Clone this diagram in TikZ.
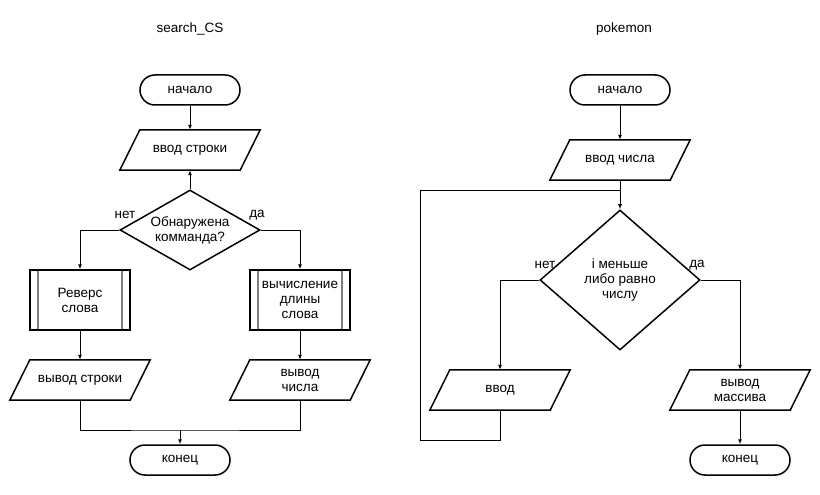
\documentclass[tikz,border=0pt]{standalone}
\usepackage{fontspec}
\setmainfont{Liberation Sans}
\usetikzlibrary{arrows.meta,shapes.geometric}

\begin{document}
\begin{tikzpicture}[x=1pt,y=-1pt,
        every node/.style={font=\fontsize{13.5}{15}\selectfont,align=center},
        term/.style={draw,line width=1.5pt,rounded corners=15pt,minimum width=100pt,minimum height=30pt,inner sep=0pt},
        io/.style={minimum width=120pt,minimum height=40pt,inner sep=0pt,
            append after command={\pgfextra{\draw[line width=1.5pt,line join=miter]
                ([xshift=10pt]\tikzlastnode.north west) -- ([xshift=10pt]\tikzlastnode.north east)
                -- ([xshift=-10pt]\tikzlastnode.south east) -- ([xshift=-10pt]\tikzlastnode.south west) -- cycle;}}},
        cond/.style={draw,line width=1.5pt,diamond,inner sep=0pt},
        proc/.style={draw,line width=1.5pt,minimum width=100pt,minimum height=60pt,inner sep=0pt,
            path picture={\draw[gray,line width=1.2pt] ([xshift=8pt]path picture bounding box.north west) -- ([xshift=8pt]path picture bounding box.south west)
                ([xshift=-8pt]path picture bounding box.north east) -- ([xshift=-8pt]path picture bounding box.south east);}},
        arr/.style={-{Latex[length=5pt,width=4pt]},line width=1pt},
        ln/.style={line width=1pt}]
        \useasboundingbox (0,0) rectangle (820,495);

        % search_CS
        \node (t_1) at (190,29) {search\_CS};
        \node[term] (s_1) at (190,90) {начало};
        \node[io] (in_1) at (190,150) {ввод строки};
        \node[cond,aspect=1.75,minimum width=140pt,minimum height=80pt] (d_1) at (190,230) {Обнаружена\\комманда?};
        \node (no_1) at (125,215) {нет};
        \node (yes_1) at (257,215) {да};
        \node[proc] (rev) at (80,300) {Реверс\\слова};
        \node[proc] (len) at (300,300) {вычисление\\длины\\слова};
        \node[io] (outs) at (80,380) {вывод строки};
        \node[io] (outn) at (300,380) {вывод\\числа};
        \coordinate (m_1) at (180,430);
        \node[term] (e_1) at (180,460) {конец};
        \draw[arr] (s_1) -- (in_1);
        \draw[arr] (d_1) -- (in_1);
        \draw[arr] (d_1.west) -| (rev);
        \draw[arr] (d_1.east) -| (len);
        \draw[arr] (rev) -- (outs);
        \draw[arr] (len) -- (outn);
        \draw[ln] (outs) |- (m_1) -| (outn);
        \draw[arr] (m_1) -- (e_1);

        % pokemon
        \node (t_2) at (624,29) {pokemon};
        \node[term] (s_2) at (620,90) {начало};
        \node[io] (in_2) at (620,160) {ввод числа};
        \node[cond,aspect=1.143,minimum width=160pt,minimum height=140pt] (d_2) at (620,280) {і меньше\\либо равно\\числу};
        \node (no_2) at (545,265) {нет};
        \node (yes_2) at (697,265) {да};
        \node[io] (inv) at (500,390) {ввод};
        \node[io] (outa) at (740,390) {вывод\\массива};
        \node[term] (e_2) at (740,460) {конец};
        \coordinate (loop) at (420,440);
        \coordinate (join) at (620,190);
        \draw[arr] (s_2) -- (in_2);
        \draw[arr] (in_2) -- (d_2);
        \draw[arr] (d_2.west) -| (inv);
        \draw[arr] (d_2.east) -| (outa);
        \draw[ln] (inv) |- (loop) |- (join);
        \draw[arr] (outa) -- (e_2);
\end{tikzpicture}
\end{document}
